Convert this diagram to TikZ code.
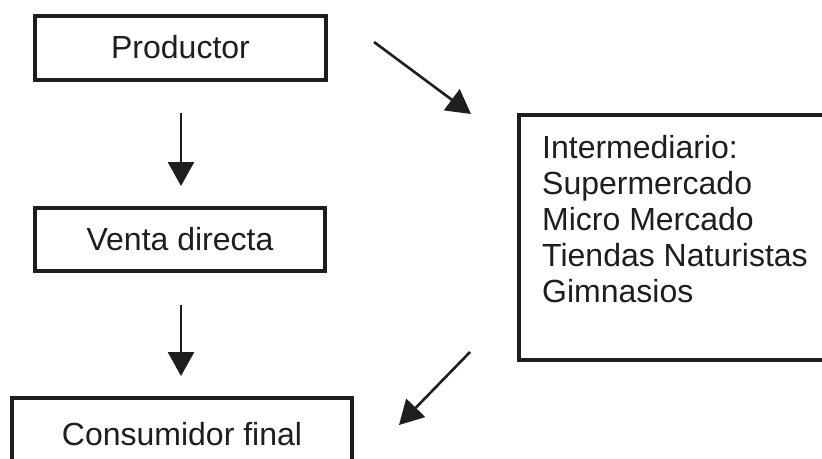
\documentclass[tikz,border=0pt]{standalone}
\usepackage{fontspec}
\setmainfont{Liberation Sans}
\usetikzlibrary{arrows.meta}
\definecolor{ink}{HTML}{1E1E1E}
\begin{document}
\begin{tikzpicture}[x=1pt,y=-1pt,
  box/.style={draw=ink,line width=4pt,rectangle,inner sep=0pt,text=ink},
  flow/.style={draw=ink,line width=2.6pt,-{Triangle[length=24pt,width=26pt]}},
  lbl/.style={font=\fontsize{32}{36}\selectfont,text=ink}]
  \clip (0,0) rectangle (822,458);
  \fill[white] (0,0) rectangle (822,458);

  % left column of boxes
  \node[box,lbl,minimum width=291pt,minimum height=64pt] (prod) at (180.5,47.5) {Productor};
  \node[box,lbl,minimum width=290pt,minimum height=63pt] (venta) at (180,239) {Venta directa};
  \node[box,lbl,minimum width=340pt,minimum height=72pt] (cons) at (182,434) {Consumidor final};

  % intermediary box on the right (runs past the right edge)
  \node[box,minimum width=330pt,minimum height=245pt,anchor=north west] (inter) at (517,113) {};
  \node[lbl,anchor=north west,align=left,inner sep=0pt] (intertext) at (542,135)
    {Intermediario:\\Supermercado\\Micro Mercado\\Tiendas Naturistas\\Gimnasios};

  % arrow end points
  \coordinate (a1s) at (181,113);
  \coordinate (a1e) at (181,186);
  \coordinate (a2s) at (181,305);
  \coordinate (a2e) at (181,376);
  \coordinate (d1s) at (374,42);
  \coordinate (d1e) at (471,114);
  \coordinate (d2s) at (470,352);
  \coordinate (d2e) at (399,425);

  \draw[flow] (a1s) -- (a1e);
  \draw[flow] (a2s) -- (a2e);
  \draw[flow] (d1s) -- (d1e);
  \draw[flow] (d2s) -- (d2e);
\end{tikzpicture}
\end{document}
